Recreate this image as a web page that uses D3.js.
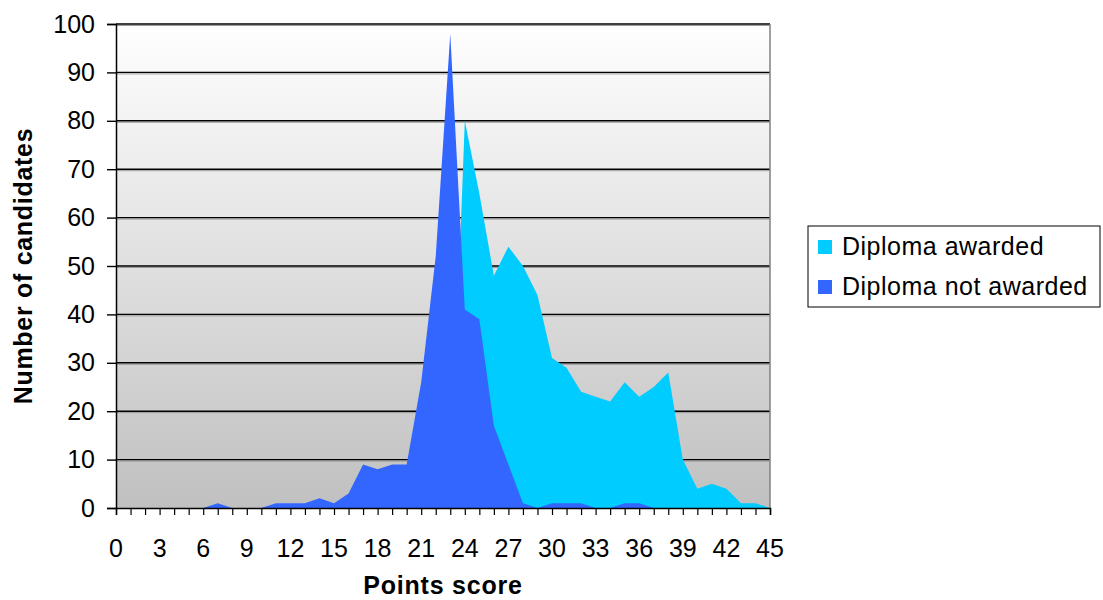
<!DOCTYPE html>
<html>
<head>
<meta charset="utf-8">
<script src="https://cdn.jsdelivr.net/npm/d3@7"></script>
<style>
  body { margin: 0; background: #fff; }
  svg { display: block; font-family: "Liberation Sans", Arial, sans-serif; }
</style>
</head>
<body>
<div id="chart"></div>
<script>
// Points score distribution, overlaid (not stacked) area series.
const scores = d3.range(0, 46);
const awarded = [
  0, 0, 0, 0, 0, 0, 0, 0, 0, 0,
  0, 0, 0, 0, 0, 0, 0, 0, 0, 0,
  0, 0, 0, 0, 80, 65, 48, 54, 50, 44,
  31, 29, 24, 23, 22, 26, 23, 25, 28, 10,
  4, 5, 4, 1, 1, 0
];
const not_awarded = [
  0, 0, 0, 0, 0, 0, 0, 1, 0, 0,
  0, 1, 1, 1, 2, 1, 3, 9, 8, 9,
  9, 26, 52, 98, 41, 39, 17, 9, 1, 0,
  1, 1, 1, 0, 0, 1, 1, 0, 0, 0,
  0, 0, 0, 0, 0, 0
];
const y_ticks = d3.range(0, 101, 10);
const x_labels = d3.range(0, 46, 3);
const series = [
  { name: "Diploma awarded", values: awarded, color: "#00ccff" },
  { name: "Diploma not awarded", values: not_awarded, color: "#3366ff" },
];

const width = 1103, height = 600;
const margin = { top: 24, right: 333, bottom: 92, left: 116 };

const x = d3.scaleLinear().domain([0, 45]).range([margin.left, width - margin.right]);
const y = d3.scaleLinear().domain([0, 100]).range([height - margin.bottom, margin.top]);

const svg = d3.select("#chart").append("svg")
  .attr("width", width)
  .attr("height", height);

const grad = svg.append("defs").append("linearGradient")
  .attr("id", "bg").attr("x1", 0).attr("y1", 0).attr("x2", 0).attr("y2", 1);
grad.append("stop").attr("offset", "0%").attr("stop-color", "#ffffff");
grad.append("stop").attr("offset", "100%").attr("stop-color", "#c0c0c0");

svg.append("rect")
  .attr("x", x(0)).attr("y", y(100))
  .attr("width", x(45) - x(0)).attr("height", y(0) - y(100))
  .attr("fill", "url(#bg)");

// gridlines with a faint grey shadow underneath
const grid = svg.append("g");
grid.selectAll("line.shadow")
  .data(y_ticks.filter((d) => d > 0))
  .join("line")
  .attr("class", "shadow")
  .attr("x1", x(0)).attr("x2", x(45))
  .attr("y1", (d) => y(d) + 1.5).attr("y2", (d) => y(d) + 1.5)
  .attr("stroke", "#9a9a9a").attr("stroke-width", 1);
grid.selectAll("line.major")
  .data(y_ticks.filter((d) => d > 0))
  .join("line")
  .attr("class", "major")
  .attr("x1", x(0)).attr("x2", x(45))
  .attr("y1", (d) => y(d)).attr("y2", (d) => y(d))
  .attr("stroke", "#000").attr("stroke-width", 1.4);

svg.append("line")
  .attr("x1", x(45)).attr("x2", x(45))
  .attr("y1", y(100)).attr("y2", y(0))
  .attr("stroke", "#808080").attr("stroke-width", 1.5);

const area = d3.area()
  .x((d, i) => x(scores[i]))
  .y0(y(0))
  .y1((d) => y(d));

svg.append("g")
  .selectAll("path")
  .data(series)
  .join("path")
  .attr("d", (s) => area(s.values))
  .attr("fill", (s) => s.color);

// axes
const x_axis = svg.append("g")
  .attr("transform", `translate(0,${y(0)})`)
  .call(d3.axisBottom(x).tickValues(scores).tickSize(7).tickFormat(() => ""));
x_axis.select(".domain").attr("stroke", "#000").attr("stroke-width", 1.5);
x_axis.selectAll(".tick line").attr("stroke", "#000").attr("stroke-width", 1.2);

svg.append("g")
  .selectAll("text")
  .data(x_labels)
  .join("text")
  .attr("x", (d) => x(d))
  .attr("y", 557)
  .attr("text-anchor", "middle")
  .attr("font-size", 25)
  .attr("fill", "#000")
  .text((d) => d);

const y_axis = svg.append("g")
  .attr("transform", `translate(${x(0)},0)`)
  .call(d3.axisLeft(y).tickValues(y_ticks).tickSize(9).tickPadding(12));
y_axis.select(".domain").attr("stroke", "#000").attr("stroke-width", 1.5);
y_axis.selectAll(".tick line").attr("stroke", "#000").attr("stroke-width", 1.4);
y_axis.selectAll(".tick text")
  .attr("font-size", 25)
  .attr("fill", "#000")
  .attr("font-family", "Liberation Sans, Arial, sans-serif");

svg.append("text")
  .attr("x", (x(0) + x(45)) / 2)
  .attr("y", 594)
  .attr("text-anchor", "middle")
  .attr("font-size", 25)
  .attr("font-weight", "bold")
  .attr("letter-spacing", 0.8)
  .text("Points score");

svg.append("text")
  .attr("transform", "rotate(-90)")
  .attr("x", -(y(0) + y(100)) / 2)
  .attr("y", 32)
  .attr("text-anchor", "middle")
  .attr("font-size", 25)
  .attr("font-weight", "bold")
  .attr("letter-spacing", 0.7)
  .text("Number of candidates");

// legend
const legend = svg.append("g").attr("transform", "translate(808,226)");
legend.append("rect")
  .attr("width", 292).attr("height", 81)
  .attr("fill", "#fff").attr("stroke", "#000").attr("stroke-width", 1);
const rows = legend.selectAll("g.row")
  .data(series)
  .join("g")
  .attr("class", "row")
  .attr("transform", (s, i) => `translate(10,${20 + i * 40})`);
rows.append("rect")
  .attr("x", 0).attr("y", -6)
  .attr("width", 14).attr("height", 14)
  .attr("fill", (s) => s.color);
rows.append("text")
  .attr("x", 24).attr("y", 9)
  .attr("font-size", 25)
  .attr("letter-spacing", 0.5)
  .attr("fill", "#000")
  .text((s) => s.name);
</script>
</body>
</html>
